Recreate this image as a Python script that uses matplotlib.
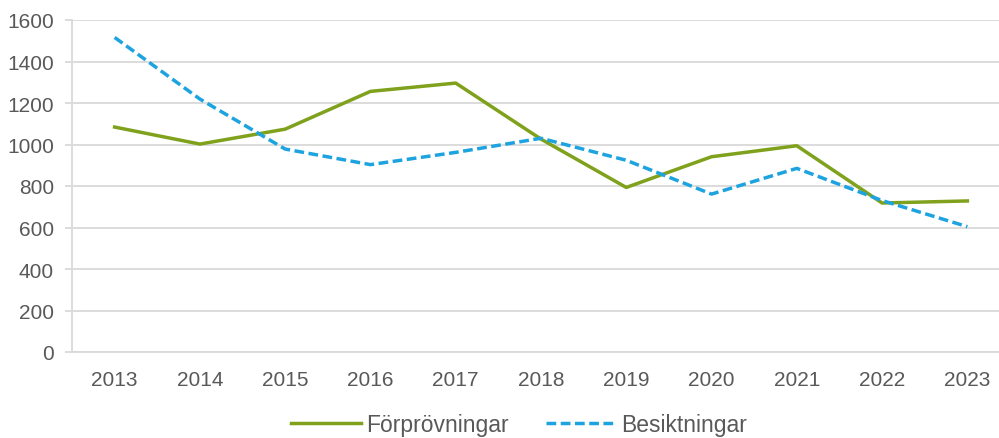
import matplotlib
matplotlib.use("Agg")
import matplotlib.pyplot as plt
import numpy as np

years = ["2013", "2014", "2015", "2016", "2017", "2018", "2019", "2020", "2021", "2022", "2023"]
forprovningar = [1084, 1002, 1074, 1256, 1296, 1026, 793, 941, 994, 718, 728]
besiktningar = [1516, 1219, 978, 903, 962, 1030, 924, 761, 885, 730, 604]
yticks = [0, 200, 400, 600, 800, 1000, 1200, 1400, 1600]

plt.rcParams['font.family'] = ['Liberation Sans', 'DejaVu Sans']
text_col = '#595959'
grid_col = '#D9D9D9'

fig = plt.figure(figsize=(9.99, 4.39), dpi=100)
ax = fig.add_axes([72/999, 86/439, 938/999, 332/439])

x = np.arange(len(years))
ax.plot(x, forprovningar, color='#7FA11C', lw=2.5, label='Förprövningar')
ax.plot(x, besiktningar, color='#1CA3E0', lw=2.5, ls=(0, (2.8, 1.3)), label='Besiktningar')

ax.set_xlim(-0.5, len(years) - 0.5)
ax.set_ylim(0, 1600)
ax.set_yticks(yticks)
ax.set_xticks(x)
ax.set_xticklabels(years)
ax.yaxis.grid(True, color=grid_col, lw=1.3)
ax.set_axisbelow(True)
for s in ['top', 'right']:
    ax.spines[s].set_visible(False)
ax.spines['left'].set_color(grid_col)
ax.spines['bottom'].set_color(grid_col)
ax.spines['left'].set_linewidth(1.3)
ax.spines['bottom'].set_linewidth(1.3)
ax.tick_params(axis='y', colors=text_col, labelsize=15, length=5, width=1.3, color=grid_col, pad=8)
ax.tick_params(axis='x', colors=text_col, labelsize=15, length=0, pad=13)

leg = fig.legend(loc='center', bbox_to_anchor=(519/999, 1 - 426/439), ncol=2, frameon=False,
                 fontsize=16.5, handlelength=3.05, columnspacing=1.6, handletextpad=0.25)
for t in leg.get_texts():
    t.set_color(text_col)

fig.savefig("out.png", dpi=100)
